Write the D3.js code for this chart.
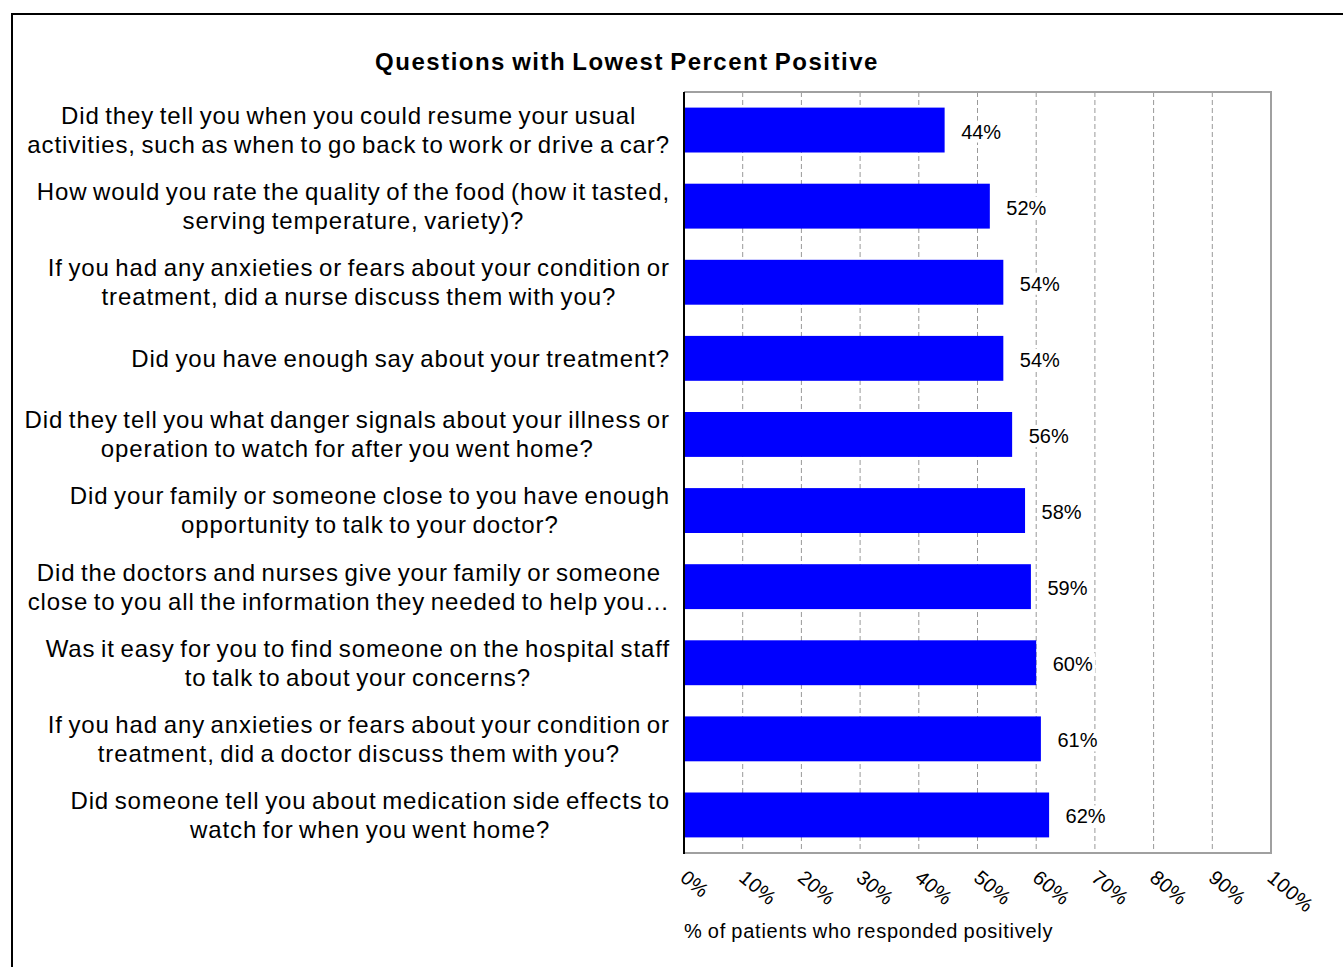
<!DOCTYPE html>
<html>
<head>
<meta charset="utf-8">
<script src="https://cdn.jsdelivr.net/npm/d3@7"></script>
<style>
  html, body { margin: 0; padding: 0; background: #fff; }
  svg { display: block; font-family: "Liberation Sans", Arial, sans-serif; }
</style>
</head>
<body>
<svg id="chart" width="1343" height="967"></svg>
<script>
const categories = [
  ["Did they tell you when you could resume your usual", "activities, such as when to go back to work or drive a car?"],
  ["How would you rate the quality of the food (how it tasted,", "serving temperature, variety)?"],
  ["If you had any anxieties or fears about your condition or", "treatment, did a nurse discuss them with you?"],
  ["Did you have enough say about your treatment?"],
  ["Did they tell you what danger signals about your illness or", "operation to watch for after you went home?"],
  ["Did your family or someone close to you have enough", "opportunity to talk to your doctor?"],
  ["Did the doctors and nurses give your family or someone", "close to you all the information they needed to help you\u2026"],
  ["Was it easy for you to find someone on the hospital staff", "to talk to about your concerns?"],
  ["If you had any anxieties or fears about your condition or", "treatment, did a doctor discuss them with you?"],
  ["Did someone tell you about medication side effects to", "watch for when you went home?"]
];
const values = [44.4, 52.1, 54.4, 54.4, 55.9, 58.1, 59.1, 60.0, 60.8, 62.2];
const valueLabels = ["44%", "52%", "54%", "54%", "56%", "58%", "59%", "60%", "61%", "62%"];
const tickValues = [0, 10, 20, 30, 40, 50, 60, 70, 80, 90, 100];
const tickLabels = ["0%", "10%", "20%", "30%", "40%", "50%", "60%", "70%", "80%", "90%", "100%"];
const chartTitle = "Questions with Lowest Percent Positive";
const axisTitle = "% of patients who responded positively";

const svg = d3.select("#chart");
const plot = { left: 684, right: 1271, top: 92, bottom: 853 };

// outer frame
svg.append("rect").attr("x", 12).attr("y", 14).attr("width", 1345).attr("height", 970)
  .attr("fill", "none").attr("stroke", "#000").attr("stroke-width", 2);

const x = d3.scaleLinear().domain([0, 100]).range([plot.left, plot.right]);
const y = d3.scaleBand().domain(d3.range(categories.length)).range([plot.top, plot.bottom]).paddingInner(0.41).paddingOuter(0.205);

// gridlines
svg.append("g").selectAll("line").data(tickValues.filter(d => d > 0 && d < 100)).join("line")
  .attr("x1", d => x(d)).attr("x2", d => x(d))
  .attr("y1", plot.top).attr("y2", plot.bottom)
  .attr("stroke", "#999").attr("stroke-width", 1).attr("stroke-dasharray", "5,3");

// plot border (top, right, bottom)
svg.append("path")
  .attr("d", `M${plot.left},${plot.top}H${plot.right}V${plot.bottom}H${plot.left}`)
  .attr("fill", "none").attr("stroke", "#a0a0a0").attr("stroke-width", 2);

// bars
svg.append("g").selectAll("rect").data(values).join("rect")
  .attr("x", x(0)).attr("y", (d, i) => y(i))
  .attr("width", d => x(d) - x(0)).attr("height", y.bandwidth())
  .attr("fill", "#0000ff");

// value labels with white background
const vl = svg.append("g").selectAll("g").data(values).join("g")
  .attr("transform", (d, i) => `translate(${x(d) + 16.5},${y(i) + y.bandwidth() / 2 + 1.5})`);
vl.append("text").text((d, i) => valueLabels[i])
  .attr("font-size", 20).attr("dy", "0.35em").attr("fill", "#000");
vl.each(function () {
  const g = d3.select(this);
  const bb = g.select("text").node().getBBox();
  g.insert("rect", "text").attr("x", bb.x - 2).attr("y", bb.y).attr("width", bb.width + 4).attr("height", bb.height).attr("fill", "#fff");
});

// left axis line
svg.append("line").attr("x1", plot.left).attr("x2", plot.left).attr("y1", plot.top).attr("y2", plot.bottom + 1)
  .attr("stroke", "#000").attr("stroke-width", 2);

// category labels: lines centered within block, block right-aligned
const labelRight = 670;
const lineH = 29;
const catG = svg.append("g");
categories.forEach((lines, i) => {
  const cy = y(i) + y.bandwidth() / 2;
  const g = catG.append("g");
  const texts = lines.map((ln, j) => g.append("text").text(ln)
    .attr("font-size", 24).attr("letter-spacing", 0.9).attr("word-spacing", -2)
    .attr("text-anchor", "middle")
    .attr("y", cy + (j - (lines.length - 1) / 2) * lineH).attr("dy", "0.35em")
    .attr("fill", "#000"));
  const w = d3.max(texts, t => t.node().getBBox().width);
  texts.forEach(t => t.attr("x", labelRight - w / 2));
});

// x tick labels rotated
svg.append("g").selectAll("text").data(tickValues).join("text")
  .attr("transform", d => `translate(${x(d) + 4},${869}) rotate(40)`)
  .attr("font-size", 20).attr("letter-spacing", 0.3).attr("dy", "0.7em").attr("fill", "#000")
  .text((d, i) => tickLabels[i]);

// axis title
svg.append("text").attr("x", plot.left).attr("y", 938).attr("font-size", 20)
  .attr("letter-spacing", 0.75).attr("word-spacing", -1).attr("fill", "#000").text(axisTitle);

// chart title
svg.append("text").attr("x", 627).attr("y", 70).attr("text-anchor", "middle")
  .attr("font-size", 24).attr("letter-spacing", 1.5).attr("word-spacing", -2)
  .attr("font-weight", "bold").attr("fill", "#000").text(chartTitle);
</script>
</body>
</html>
